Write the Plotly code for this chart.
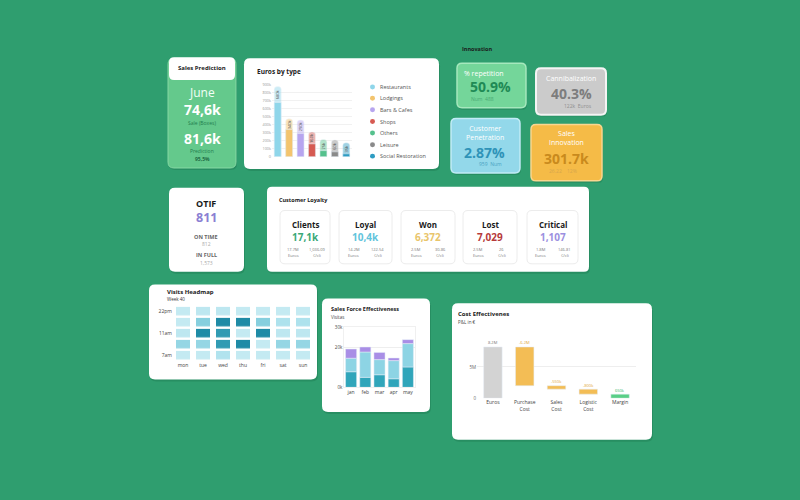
import plotly.graph_objects as go

W, H = 800, 500
BG = "#2f9e6f"
FONT = "Open Sans"

# ---------------- data ----------------
sales_month = "June"
sales_boxes = "74,6k"
sales_pred = "81,6k"
sales_pred_pct = "95,5%"

euro_types = ["Restaurants", "Lodgings", "Bars & Cafes", "Shops", "Others", "Leisure", "Social Restoration"]
euro_values = [680000, 340000, 290000, 160000, 75000, 60000, 35000]
euro_label_top = [880000, 475000, 460000, 310000, 215000, 210000, 175000]
euro_colors = ["#8fd6ea", "#f3c46e", "#b7a5ef", "#d65a52", "#55c18d", "#8a8a8a", "#2e9cc2"]

innov_titles = ["% repetition", "Cannibalization", "Customer<br>Penetration", "Sales<br>Innovation"]
innov_values = ["50.9%", "40.3%", "2.87%", "301.7k"]
innov_sub = ["Num  488", "122k  Euros", "959  Num", "26.22    12%"]

otif_value = "811"
otif_on_time = "812"
otif_in_full = "1,573"

loyal_titles = ["Clients", "Loyal", "Won", "Lost", "Critical"]
loyal_values = ["17,1k", "10,4k", "6,372", "7,029", "1,107"]
loyal_euros = ["17.7M", "14.2M", "2.5M", "2.5M", "1.8M"]
loyal_per_cli = ["1,036.09", "122.54", "30.86", "26", "146.81"]
loyal_colors = ["#3aa877", "#62c4dc", "#e9c56b", "#b63a3a", "#9c90e0"]

days = ["mon", "tue", "wed", "thu", "fri", "sat", "sun"]
hour_rows = [0, 1, 2, 3, 4]
hour_tick_rows = [0, 2, 4]
hour_tick_labels = ["7am", "11am", "22pm"]
visits = [  # rows bottom (7am) to top (22pm)
    [2.0, 2.0, 2.5, 2.0, 2.0, 2.0, 2.0],
    [3.0, 3.0, 4.6, 5.0, 2.0, 3.0, 3.0],
    [2.2, 5.0, 4.6, 2.0, 5.0, 2.2, 2.2],
    [2.0, 3.2, 5.0, 5.0, 3.2, 2.6, 2.6],
    [2.0, 2.2, 2.2, 2.0, 2.0, 2.0, 2.0],
]

sf_months = ["jan", "feb", "mar", "apr", "may"]
sf_dark = [7.8, 5.0, 6.3, 4.3, 10.2]
sf_light = [6.8, 12.7, 7.6, 9.1, 11.7]
sf_purple = [4.6, 2.5, 3.6, 1.3, 2.0]
sf_ticks = [0, 20, 30]
sf_tick_labels = ["0k", "20k", "30k"]

cost_cats = ["Euros", "Purchase<br>Cost", "Sales<br>Cost", "Logistic<br>Cost", "Margin"]
cost_values = [8.2, -6.2, -0.55, -0.8, 0.65]
cost_labels = ["8.2M", "-6.2M", "-550k", "-800k", "650k"]
cost_colors = ["#d3d3d3", "#f3bd55", "#f3bd55", "#f3bd55", "#59cf86"]
cost_text_colors = ["#777777", "#e0a43a", "#e0a43a", "#e0a43a", "#3bb56c"]
cost_ticks = [0, 5]
cost_tick_labels = ["0", "5M"]


# ---------------- helpers ----------------
def X(px):
    return px / W


def Y(py):
    return 1 - py / H


shapes = []
annotations = []


def rrect(x0, y0, x1, y1, r, fill, line="rgba(0,0,0,0)", lw=0):
    rx, ry = r, r
    p = (f"M {X(x0 + rx)},{Y(y0)} L {X(x1 - rx)},{Y(y0)} Q {X(x1)},{Y(y0)} {X(x1)},{Y(y0 + ry)} "
         f"L {X(x1)},{Y(y1 - ry)} Q {X(x1)},{Y(y1)} {X(x1 - rx)},{Y(y1)} "
         f"L {X(x0 + rx)},{Y(y1)} Q {X(x0)},{Y(y1)} {X(x0)},{Y(y1 - ry)} "
         f"L {X(x0)},{Y(y0 + ry)} Q {X(x0)},{Y(y0)} {X(x0 + rx)},{Y(y0)} Z")
    shapes.append(dict(type="path", path=p, xref="paper", yref="paper", fillcolor=fill,
                       line=dict(color=line, width=lw), layer="below"))


def txt(x, y, text, size, color="#222222", anchor="center", bold=False, family=FONT, opacity=1):
    if bold:
        text = f"<b>{text}</b>"
    annotations.append(dict(x=X(x), y=Y(y), xref="paper", yref="paper", text=text, showarrow=False,
                            xanchor=anchor, yanchor="middle", opacity=opacity, borderpad=0,
                            font=dict(size=size, color=color, family=family)))


def card(x0, y0, x1, y1, r=6, fill="white", line="rgba(0,0,0,0)", lw=0, shadow=True):
    if shadow:
        rrect(x0 + 1, y0 + 2, x1 + 1, y1 + 2, r, "rgba(0,60,30,0.16)")
    rrect(x0, y0, x1, y1, r, fill, line, lw)


# ---------------- cards ----------------
# Sales prediction
card(168, 56, 236, 167, 6, "#64c98c", "#86d8a4", 1)
card(169, 55, 235, 78, 5, "white", shadow=False)
txt(202, 66, "Sales Prediction", 6, "#222", bold=True)
txt(202, 91, sales_month, 12, "#f2fff6")
txt(202, 108, sales_boxes, 14, "white", bold=True)
txt(202, 121.5, "Sale (Boxes)", 5, "#1f7d4c")
txt(202, 137, sales_pred, 14, "white", bold=True)
txt(202, 150, "Prediction", 5, "#1f7d4c")
txt(202, 158, sales_pred_pct, 5, "#1f6b45", bold=True)

# Euros by type
card(244, 56, 439, 168, 6)
txt(256, 69, "Euros by type", 6.5, "#222", anchor="left", bold=True)
legend_y = [85, 96.5, 108, 120, 131.5, 143.5, 155]
for name, col, ly in zip(euro_types, euro_colors, legend_y):
    shapes.append(dict(type="circle", xref="paper", yref="paper", x0=X(370), x1=X(375), y0=Y(ly + 2.5),
                       y1=Y(ly - 2.5), fillcolor=col, line=dict(width=0)))
    txt(379, ly, name, 5.5, "#555", anchor="left")

# Innovation
txt(461, 47, "Innovation", 5.5, "#1a1a1a", anchor="left", bold=True)
card(457, 61, 526, 106, 5, "#74d69a", "#a5e8bd", 1.5)
txt(463, 71, innov_titles[0], 7, "white", anchor="left")
txt(490, 85, innov_values[0], 14, "#1f8a55", bold=True)
txt(482, 97, innov_sub[0], 5, "#3f9f6a", opacity=0.8)

card(536, 66, 606, 113, 5, "#cbcbcb", "#f4f4f4", 2)
txt(571, 76, innov_titles[1], 7, "white")
txt(571, 92, innov_values[1], 14, "#7d7d7d", bold=True)
txt(578, 104, innov_sub[1], 5, "#8f8f8f")

card(451, 117, 520, 172, 5, "#93d8ea", "#c2ecf6", 1.5)
txt(485, 132, innov_titles[2], 7, "white")
txt(485, 151, innov_values[2], 14, "#2f93b8", bold=True)
txt(490, 163, innov_sub[2], 5, "#4aa3c3")

card(531, 123, 602, 180, 5, "#f5bb47", "#f9d68f", 1.5)
txt(566, 137, innov_titles[3], 7, "white")
txt(566, 157, innov_values[3], 14, "#c98a1d", bold=True)
txt(563, 170, innov_sub[3], 5, "#d6a64e")

# OTIF
card(169, 187, 244, 272, 6)
txt(206, 202.5, "OTIF", 9, "#1a1a1a", bold=True)
txt(206, 217.5, otif_value, 12.5, "#8b7fd3", bold=True)
txt(206, 237, "ON TIME", 5.5, "#666", bold=True)
txt(206, 244, otif_on_time, 5, "#aaa")
txt(206, 255, "IN FULL", 5.5, "#666", bold=True)
txt(206, 263, otif_in_full, 5, "#aaa")

# Customer loyalty
card(267, 186, 589, 272, 5)
txt(278, 199, "Customer Loyalty", 5.5, "#1a1a1a", anchor="left", bold=True)
loyal_x = [(280, 330), (339, 392), (401, 455), (463, 517), (527, 578)]
for (a, b), t, v, e, pc, col in zip(loyal_x, loyal_titles, loyal_values, loyal_euros, loyal_per_cli, loyal_colors):
    rrect(a, 210, b, 264, 5, "white", "#ececec", 1)
    c = (a + b) / 2
    txt(c, 224, t, 8, "#1a1a1a", bold=True)
    txt(c, 237, v, 10, col, bold=True)
    txt(c - 12, 249, e, 4, "#777")
    txt(c - 12, 256, "Euros", 4, "#777")
    txt(c + 12, 249, pc, 4, "#777")
    txt(c + 12, 256, "€/cli", 4, "#777")

# Visits heatmap
card(149, 285, 317, 381, 6)
txt(166, 293, "Visits Headmap", 6, "#1a1a1a", anchor="left", bold=True)
txt(166, 300, "Week 40", 4.5, "#333", anchor="left")

# Sales force
card(322, 299, 430, 414, 6)
txt(330, 310, "Sales Force Effectiveness", 5.5, "#1a1a1a", anchor="left", bold=True)
txt(330, 318, "Visitas", 4.5, "#444", anchor="left")

# Cost effectiveness
card(452, 304, 652, 442, 6)
txt(457, 315, "Cost Effectivenes", 6, "#1a1a1a", anchor="left", bold=True)
txt(457, 323, "P&L in €", 4.5, "#444", anchor="left")

# ---------------- traces ----------------
fig = go.Figure()

# Euros by type
fig.add_trace(go.Bar(x=euro_types, y=euro_label_top, marker=dict(color=euro_colors, opacity=0.45, cornerradius=3),
                     xaxis="x", yaxis="y", showlegend=False, hoverinfo="skip"))
fig.add_trace(go.Bar(x=euro_types, y=euro_values, marker=dict(color=euro_colors, cornerradius=3),
                     xaxis="x", yaxis="y", showlegend=False, width=0.6))
for t, top, v in zip(euro_types, euro_label_top, euro_values):
    annotations.append(dict(x=t, y=(top + v) / 2, xref="x", yref="y", text=f"{v/1000:.0f}k", textangle=-90,
                            showarrow=False, font=dict(size=4, color="#555", family=FONT)))

# Heatmap
fig.add_trace(go.Heatmap(x=days, y=hour_rows, z=visits, xaxis="x2", yaxis="y2", xgap=6, ygap=2.5,
                         colorscale=[[0, "#d7f1f6"], [0.35, "#a9e0ec"], [0.7, "#4fb4c9"], [1, "#1f8ba6"]],
                         zmin=1.5, zmax=5, showscale=False))

# Sales force stacked (bases computed from data)
sf_base_light = sf_dark
sf_base_purple = [a + b for a, b in zip(sf_dark, sf_light)]
fig.add_trace(go.Bar(x=sf_months, y=sf_dark, marker_color="#30a5ba", xaxis="x3", yaxis="y3",
                     showlegend=False, width=0.78))
fig.add_trace(go.Bar(x=sf_months, y=sf_light, base=sf_base_light, marker_color="#8dd4e4", xaxis="x3", yaxis="y3",
                     showlegend=False, width=0.78))
fig.add_trace(go.Bar(x=sf_months, y=sf_purple, base=sf_base_purple, marker_color="#a98ee6", xaxis="x3",
                     yaxis="y3", showlegend=False, width=0.78))

# Cost waterfall via bars with base
bases, tops = [], []
running = 0.0
for i, v in enumerate(cost_values):
    if i == 0:
        bases.append(0.0)
        tops.append(v)
        running = v
    elif i == len(cost_values) - 1:
        bases.append(0.0)
        tops.append(v)
    else:
        bases.append(running + v)
        tops.append(running)
        running = running + v
heights = [t - b for t, b in zip(tops, bases)]
fig.add_trace(go.Bar(x=cost_cats, y=heights, base=bases, marker_color=cost_colors, xaxis="x4", yaxis="y4",
                     showlegend=False, width=0.58))
for c, t, lab, col in zip(cost_cats, tops, cost_labels, cost_text_colors):
    annotations.append(dict(x=c, y=t, xref="x4", yref="y4", text=lab, showarrow=False, yshift=4,
                            font=dict(size=4, color=col, family=FONT)))

fig.update_layout(
    width=W, height=H, margin=dict(l=0, r=0, t=0, b=0),
    paper_bgcolor=BG, plot_bgcolor="rgba(0,0,0,0)",
    barmode="overlay", bargap=0.38,
    font=dict(family=FONT),
    xaxis=dict(domain=[X(272), X(352)], showticklabels=False, showgrid=False, zeroline=False, fixedrange=True),
    yaxis=dict(domain=[Y(155.5), Y(83)], range=[0, 900000], dtick=100000, tickformat="~s",
               tickfont=dict(size=3.8, color="#999"),
               gridcolor="#f1f1f1", gridwidth=0.5, zeroline=False, ticklen=0, anchor="x"),
    xaxis2=dict(domain=[X(173), X(313)], anchor="y2", tickfont=dict(size=5, color="#444", family=FONT),
                showgrid=False, zeroline=False, ticklen=0),
    yaxis2=dict(domain=[Y(362.5), Y(306.5)], anchor="x2", tickvals=hour_tick_rows, ticktext=hour_tick_labels,
                tickfont=dict(size=5, color="#444", family=FONT), showgrid=False, zeroline=False, ticklen=0),
    xaxis3=dict(domain=[X(344), X(415)], anchor="y3", tickfont=dict(size=5, color="#444", family=FONT),
                showgrid=False, zeroline=False, ticklen=0, showline=True, linecolor="#f0f0f0", mirror=True,
                linewidth=0.5),
    yaxis3=dict(domain=[Y(389), Y(328)], anchor="x3", range=[0, 30.2], tickvals=sf_ticks, ticktext=sf_tick_labels,
                tickfont=dict(size=4.5, color="#444", family=FONT), gridcolor="#eeeeee", gridwidth=0.5,
                zeroline=False, ticklen=0, showline=True, linecolor="#f0f0f0", mirror=True, linewidth=0.5),
    xaxis4=dict(domain=[X(477), X(636)], anchor="y4", tickfont=dict(size=5, color="#444", family=FONT),
                showgrid=False, zeroline=False, ticklen=0),
    yaxis4=dict(domain=[Y(400), Y(345)], anchor="x4", range=[0, 8.7], tickvals=cost_ticks,
                ticktext=cost_tick_labels,
                tickfont=dict(size=4.5, color="#666", family=FONT), gridcolor="#eeeeee", gridwidth=0.5,
                zeroline=False, ticklen=0),
)
fig.layout.shapes = shapes
fig.layout.annotations = annotations

fig.write_html("out.html", config={"displayModeBar": False},
               post_script="document.body.style.margin='0';document.body.style.overflow='hidden';")
